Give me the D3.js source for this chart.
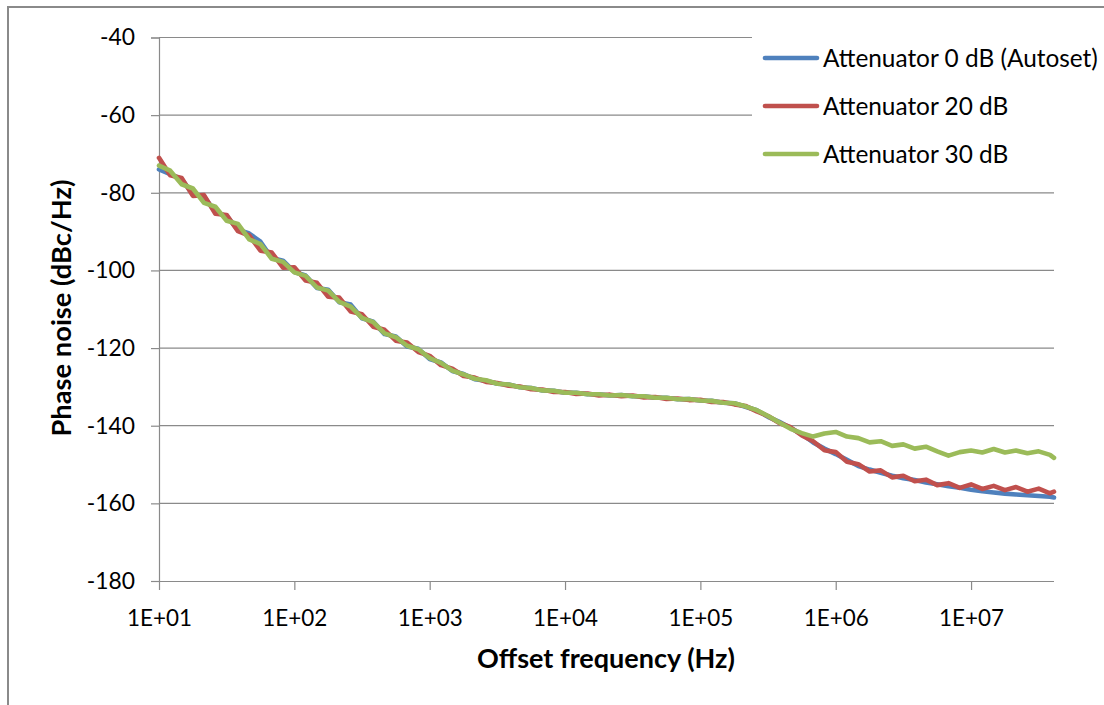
<!DOCTYPE html>
<html>
<head>
<meta charset="utf-8">
<script src="https://cdn.jsdelivr.net/npm/d3@7"></script>
<style>
  html, body { margin: 0; padding: 0; background: #fff; }
  svg { display: block; }
  text { font-family: Lato, "Open Sans", sans-serif; fill: #000; }
</style>
</head>
<body>
<svg id="chart" width="1104" height="705"></svg>
<script>
// ---- Data ----
const freqs = [
  10, 12.1, 14.7, 17.8, 21.5, 26.1, 31.6, 38.3, 46.4, 56.2, 68.1, 82.5,
  100, 121, 147, 178, 215, 261, 316, 383, 464, 562, 681, 825,
  1000, 1210, 1470, 1780, 2150, 2610, 3160, 3830, 4640, 5620, 6810, 8250,
  1e4, 1.21e4, 1.47e4, 1.78e4, 2.15e4, 2.61e4, 3.16e4, 3.83e4, 4.64e4, 5.62e4, 6.81e4, 8.25e4,
  1e5, 1.21e5, 1.47e5, 1.78e5, 2.15e5, 2.61e5, 3.16e5, 3.83e5, 4.64e5, 5.62e5, 6.81e5, 8.25e5,
  1e6, 1.21e6, 1.47e6, 1.78e6, 2.15e6, 2.61e6, 3.16e6, 3.83e6, 4.64e6, 5.62e6, 6.81e6, 8.25e6,
  1e7, 1.21e7, 1.47e7, 1.78e7, 2.15e7, 2.61e7, 3.16e7, 3.83e7, 4.1e7
];

const att0 = [
  -74.0, -75.2, -76.5, -80.4, -81.0, -85.0, -86.0, -89.5, -90.5, -92.6, -96.8, -97.5,
  -100.4, -101.3, -104.5, -105.0, -108.2, -108.8, -112.3, -113.2, -116.4, -117.0, -119.6, -120.2,
  -122.8, -123.7, -125.9, -126.7, -128.0, -128.4, -129.2, -129.4, -130.1, -130.3, -130.9, -131.0,
  -131.5, -131.5, -131.9, -131.9, -132.2, -132.1, -132.4, -132.4, -132.8, -132.8, -133.2, -133.1,
  -133.5, -133.6, -134.1, -134.2, -135.1, -136.0, -137.7, -139.0, -140.6, -142.2, -144.3, -145.9,
  -147.3, -148.8, -150.4, -151.3, -152.1, -152.9, -153.5, -154.0, -154.6, -155.1, -155.6, -156.0,
  -156.5, -156.9, -157.2, -157.5, -157.7, -157.9, -158.1, -158.3, -158.5
];

const att20 = [
  -71.0, -75.5, -76.2, -80.8, -80.6, -85.4, -85.7, -89.9, -91.0, -94.9, -95.4, -99.3,
  -99.2, -102.6, -103.2, -106.8, -107.0, -110.6, -111.3, -114.5, -115.3, -118.1, -118.6, -121.0,
  -122.0, -124.4, -125.3, -127.2, -127.6, -128.7, -129.0, -129.7, -129.9, -130.6, -130.7, -131.3,
  -131.3, -131.8, -131.7, -132.2, -132.0, -132.4, -132.2, -132.7, -132.6, -133.1, -133.0, -133.4,
  -133.3, -133.9, -133.9, -134.5, -134.9, -136.3, -137.5, -139.3, -140.4, -142.5, -144.0, -146.3,
  -146.8, -149.3, -149.9, -151.8, -151.5, -153.3, -152.9, -154.3, -153.9, -155.3, -154.8, -156.0,
  -155.1, -156.3, -155.5, -156.6, -155.8, -157.0, -156.2, -157.4, -157.0
];

const att30 = [
  -73.0, -74.3, -77.8, -78.9, -82.6, -83.6, -87.2, -88.0, -92.0, -93.2, -97.0, -97.8,
  -100.5, -101.4, -104.4, -105.2, -108.1, -109.3, -112.2, -113.3, -116.2, -117.2, -119.4, -120.3,
  -122.6, -123.8, -125.8, -126.8, -127.9, -128.3, -129.2, -129.4, -130.1, -130.3, -130.9, -131.0,
  -131.5, -131.5, -131.9, -131.9, -132.2, -132.1, -132.4, -132.4, -132.8, -132.8, -133.2, -133.1,
  -133.5, -133.6, -134.1, -134.2, -135.0, -136.0, -137.5, -139.2, -140.8, -141.9, -142.8, -142.0,
  -141.6, -142.8, -143.2, -144.3, -144.0, -145.2, -144.8, -145.9, -145.4, -146.6, -147.7, -146.8,
  -146.4, -146.9, -146.0, -146.9, -146.4, -147.1, -146.6, -147.5, -148.3
];

const seriesNames = ["Attenuator 0 dB (Autoset)", "Attenuator 20 dB", "Attenuator 30 dB"];
const seriesColors = ["#4F81BD", "#C0504D", "#9BBB59"];
const seriesValues = [att0, att20, att30];

const xTickValues = [1e1, 1e2, 1e3, 1e4, 1e5, 1e6, 1e7];
const xTickLabels = ["1E+01", "1E+02", "1E+03", "1E+04", "1E+05", "1E+06", "1E+07"];
const yTickValues = [-40, -60, -80, -100, -120, -140, -160, -180];
const yTickLabels = ["-40", "-60", "-80", "-100", "-120", "-140", "-160", "-180"];

const xTitle = "Offset frequency (Hz)";
const yTitle = "Phase noise (dBc/Hz)";

// ---- Layout ----
const svg = d3.select("#chart");
const plot = { left: 159, right: 1054, top: 37.5, bottom: 581 };
const gridColor = "#8a8a8a";

const x = d3.scaleLog().domain([10, 4.1e7]).range([plot.left, plot.right]);
const y = d3.scaleLinear().domain([-180, -40]).range([plot.bottom, plot.top]);

// outer frame
svg.append("rect")
  .attr("x", 8).attr("y", 7).attr("width", 1110).attr("height", 720)
  .attr("fill", "#fff").attr("stroke", "#8a8a8a").attr("stroke-width", 2);

// gridlines
svg.append("g").selectAll("line")
  .data(yTickValues.filter(v => v !== -180))
  .join("line")
  .attr("x1", plot.left).attr("x2", plot.right)
  .attr("y1", d => y(d)).attr("y2", d => y(d))
  .attr("stroke", gridColor).attr("stroke-width", 1.2);

function fitFont(sel, targetW) {
  const w = sel.node().getComputedTextLength();
  const fs = parseFloat(sel.attr("font-size"));
  sel.attr("font-size", (fs * targetW / w).toFixed(2));
}

// y axis
const yAxis = d3.axisLeft(y).tickValues(yTickValues)
  .tickFormat((d, i) => yTickLabels[i]).tickSize(8).tickPadding(16);
const gy = svg.append("g").attr("transform", `translate(${plot.left},0)`).call(yAxis);
gy.select(".domain").attr("stroke", gridColor).attr("stroke-width", 1.2);
gy.selectAll(".tick line").attr("stroke", gridColor).attr("stroke-width", 1.2);
gy.selectAll(".tick text").attr("font-family", "Lato, sans-serif").attr("font-size", 20).attr("fill", "#000");
fitFont(gy.select(".tick text"), 35);
const yfs = gy.select(".tick text").attr("font-size");
gy.selectAll(".tick text").attr("font-size", yfs);

// x axis
const xAxis = d3.axisBottom(x).tickValues(xTickValues)
  .tickFormat((d, i) => xTickLabels[i]).tickSize(9).tickPadding(20);
const gx = svg.append("g").attr("transform", `translate(0,${plot.bottom})`).call(xAxis);
gx.select(".domain").attr("stroke", gridColor).attr("stroke-width", 1.2)
  .attr("d", `M${plot.left - 8},0.5H${plot.right}`);
gx.selectAll(".tick line").attr("stroke", gridColor).attr("stroke-width", 1.2);
gx.selectAll(".tick text").attr("font-family", "Lato, sans-serif").attr("font-size", 20).attr("fill", "#000");
fitFont(gx.select(".tick text"), 65);
const xfs = gx.select(".tick text").attr("font-size");
gx.selectAll(".tick text").attr("font-size", xfs);

// series lines
const line = d3.line()
  .x((d, i) => x(freqs[i]))
  .y(d => y(d))
  .curve(d3.curveLinear);

svg.append("g").selectAll("path")
  .data(seriesValues)
  .join("path")
  .attr("d", d => line(d))
  .attr("fill", "none")
  .attr("stroke", (d, i) => seriesColors[i])
  .attr("stroke-width", 4.6)
  .attr("stroke-linejoin", "round")
  .attr("stroke-linecap", "round");

// legend
const lg = svg.append("g");
lg.append("rect").attr("x", 752).attr("y", 28).attr("width", 352).attr("height", 150).attr("fill", "#fff");
const rowY = [58, 106, 154];
seriesNames.forEach((name, i) => {
  lg.append("line")
    .attr("x1", 765).attr("x2", 817)
    .attr("y1", rowY[i]).attr("y2", rowY[i])
    .attr("stroke", seriesColors[i]).attr("stroke-width", 4.6)
    .attr("stroke-linecap", "round");
  lg.append("text")
    .attr("class", "lgtext")
    .attr("x", 823).attr("y", rowY[i])
    .attr("dy", "0.35em")
    .attr("font-size", 20)
    .text(name);
});
const lt = lg.select(".lgtext");
fitFont(lt, 275);
lg.selectAll(".lgtext").attr("font-size", lt.attr("font-size"));

// axis titles
const xt = svg.append("text")
  .attr("x", 606).attr("y", 659).attr("dy", "0.35em")
  .attr("text-anchor", "middle").attr("font-weight", "bold").attr("font-size", 20)
  .text(xTitle);
fitFont(xt, 258);

const yt = svg.append("text")
  .attr("transform", "translate(61,308) rotate(-90)")
  .attr("dy", "0.35em")
  .attr("text-anchor", "middle").attr("font-weight", "bold").attr("font-size", 20)
  .text(yTitle);
fitFont(yt, 257);
</script>
</body>
</html>
